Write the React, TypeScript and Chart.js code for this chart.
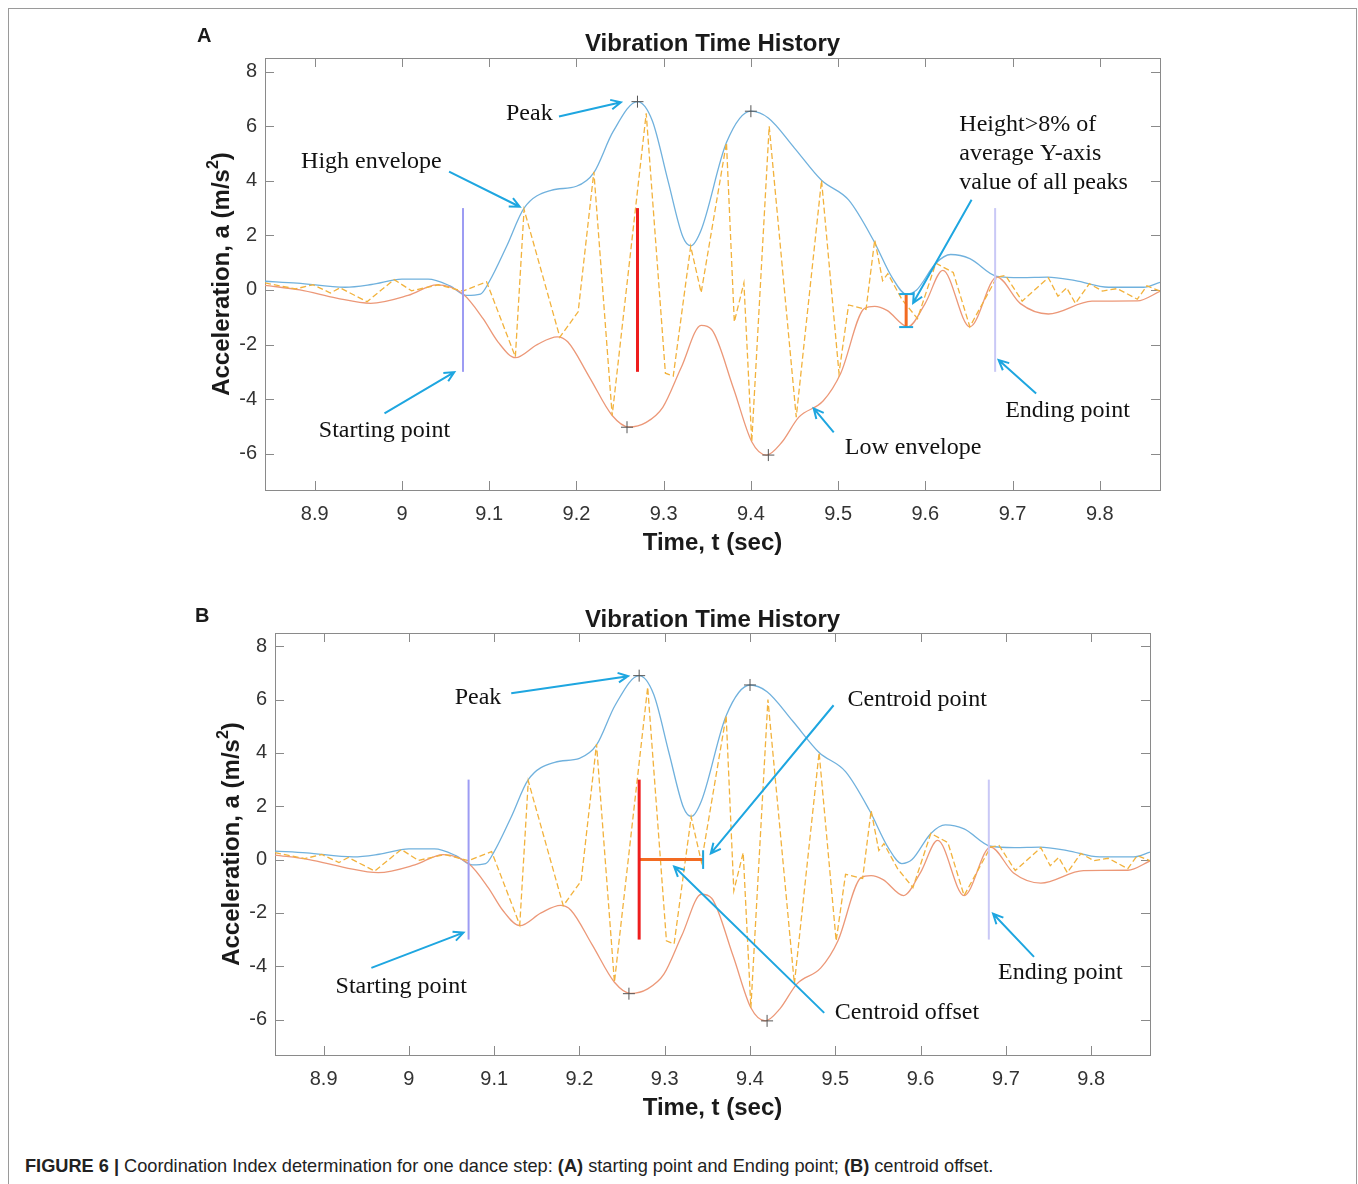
import React, { useEffect, useRef } from "react";
import { Chart, registerables } from "chart.js";
Chart.register(...registerables);

// ---------- data ----------
const highT = [8.843, 8.88, 8.935, 8.965, 9.0, 9.03, 9.055, 9.074, 9.09, 9.1, 9.12, 9.14, 9.171, 9.2, 9.22, 9.242, 9.27, 9.287, 9.305, 9.322, 9.331, 9.343, 9.372, 9.4, 9.42, 9.45, 9.481, 9.512, 9.54, 9.562, 9.578, 9.59, 9.612, 9.629, 9.651, 9.682, 9.71, 9.74, 9.772, 9.81, 9.85, 9.869];
const highA = [0.32, 0.25, 0.1, 0.2, 0.4, 0.4, 0.15, -0.2, -0.15, 0.3, 1.6, 3.0, 3.65, 3.8, 4.3, 5.8, 6.9, 6.2, 4.0, 1.95, 1.62, 2.2, 5.4, 6.55, 6.3, 5.2, 4.02, 3.3, 1.85, 0.45, -0.15, 0.0, 0.98, 1.3, 1.15, 0.5, 0.45, 0.47, 0.34, 0.1, 0.1, 0.28];

const lowT = [8.843, 8.883, 8.925, 8.964, 9.007, 9.04, 9.07, 9.093, 9.11, 9.13, 9.155, 9.178, 9.19, 9.215, 9.241, 9.26, 9.28, 9.299, 9.32, 9.343, 9.355, 9.38, 9.401, 9.418, 9.435, 9.455, 9.483, 9.503, 9.53, 9.542, 9.556, 9.58, 9.6, 9.62, 9.651, 9.682, 9.709, 9.741, 9.791, 9.843, 9.869];
const lowA = [0.17, 0.0, -0.3, -0.49, -0.2, 0.19, -0.15, -1.05, -1.9, -2.48, -2.0, -1.72, -1.9, -3.2, -4.6, -5.02, -4.85, -4.3, -2.85, -1.3, -1.45, -3.6, -5.56, -6.05, -5.6, -4.66, -4.06, -3.05, -0.68, -0.6, -0.75, -1.35, -0.48, 0.72, -1.35, 0.47, -0.5, -0.88, -0.41, -0.4, -0.05];

const sigT = [8.843, 8.878, 8.898, 8.918, 8.929, 8.96, 8.991, 9.011, 9.042, 9.07, 9.097, 9.13, 9.14, 9.181, 9.202, 9.22, 9.241, 9.28, 9.302, 9.311, 9.331, 9.343, 9.372, 9.381, 9.392, 9.401, 9.421, 9.452, 9.481, 9.501, 9.512, 9.532, 9.542, 9.551, 9.557, 9.573, 9.591, 9.612, 9.632, 9.651, 9.682, 9.692, 9.711, 9.741, 9.752, 9.762, 9.772, 9.788, 9.803, 9.82, 9.843, 9.854, 9.869];
const sigA = [0.26, 0.04, 0.19, -0.11, 0.08, -0.43, 0.38, -0.03, 0.19, -0.04, 0.3, -2.45, 2.95, -1.73, -0.8, 4.33, -4.6, 6.47, -3.05, -3.16, 1.6, -0.1, 5.4, -1.17, 0.26, -5.56, 6.0, -4.66, 4.02, -3.05, -0.55, -0.71, 1.84, 0.34, 0.6, -0.34, -1.05, 0.98, 0.64, -1.35, 0.47, 0.53, -0.41, 0.45, -0.23, 0.08, -0.49, 0.23, -0.04, 0.05, -0.34, 0.15, -0.04];

const peakT = [9.27, 9.4];
const peakA = [6.9, 6.55];
const troughT = [9.258, 9.42];
const troughA = [-5.03, -6.05];

const startT = 9.07;
const endT = 9.68;
const centreT = 9.27;
const centroidT = 9.345;
const markSpan = [-3, 3];
const thresholdT = 9.578;
const thresholdA = [-1.36, -0.15];

const xTickVals = [8.9, 9.0, 9.1, 9.2, 9.3, 9.4, 9.5, 9.6, 9.7, 9.8];
const yTickVals = [-6, -4, -2, 0, 2, 4, 6, 8];
const xRange = [8.843, 9.869];
const yRange = [-7.33, 8.5];

// ---------- annotations ----------
type Ann = { lines: string[]; x: number; y: number; align?: CanvasTextAlign; arrow?: number[] };

const annA: Ann[] = [
  { lines: ["Peak"], x: 9.146, y: 6.47, arrow: [9.18, 6.36, 9.251, 6.875] },
  { lines: ["High envelope"], x: 8.965, y: 4.71, arrow: [9.054, 4.34, 9.135, 3.05] },
  { lines: ["Starting point"], x: 8.98, y: -5.15, arrow: [8.98, -4.52, 9.06, -3.01] },
  { lines: ["Height>8% of", "average Y-axis", "value of all peaks"], x: 9.639, y: 6.07, align: "left", arrow: [9.653, 3.31, 9.586, -0.48] },
  { lines: ["Ending point"], x: 9.763, y: -4.41, arrow: [9.727, -3.79, 9.684, -2.57] },
  { lines: ["Low envelope"], x: 9.586, y: -5.77, arrow: [9.495, -5.22, 9.472, -4.34] },
];

const annB: Ann[] = [
  { lines: ["Peak"], x: 9.081, y: 6.09, arrow: [9.12, 6.24, 9.257, 6.88] },
  { lines: ["Starting point"], x: 8.991, y: -4.77, arrow: [8.956, -4.06, 9.064, -2.74] },
  { lines: ["Centroid point"], x: 9.596, y: 5.98, arrow: [9.498, 5.79, 9.354, 0.23] },
  { lines: ["Centroid offset"], x: 9.584, y: -5.75, arrow: [9.487, -5.75, 9.311, -0.26] },
  { lines: ["Ending point"], x: 9.764, y: -4.25, arrow: [9.733, -3.65, 9.685, -2.03] },
];

const SANS = '"Liberation Sans", Arial, Helvetica, sans-serif';
const SERIF = '"Liberation Serif", "Times New Roman", serif';
const CYAN = "#1ea6e0";

const pts = (t: number[], a: number[]) => t.map((v, i) => ({ x: v, y: a[i] }));

type PanelProps = {
  label: string;
  labelX: number;
  labelY: number;
  titleOff: number;
  left: number;
  top: number;
  yAxisW: number;
  padRight: number;
  padBottom: number;
  anns: Ann[];
  mode: "A" | "B";
};

function Panel(p: PanelProps) {
  const ref = useRef<HTMLCanvasElement>(null);
  useEffect(() => {
    const canvas = ref.current!;
    const lineDs = (data: any[], color: string, width: number, extra: any = {}) => ({
      data,
      borderColor: color,
      backgroundColor: color,
      borderWidth: width,
      pointRadius: 0,
      fill: false,
      tension: 0,
      ...extra,
    });
    const datasets: any[] = [];
    datasets.push(
      lineDs([...pts(peakT, peakA), ...pts(troughT, troughA)], "#555", 1, {
        showLine: false,
        pointRadius: 6,
        pointStyle: "cross",
        pointBorderColor: "#555",
        pointBorderWidth: 1,
      })
    );
    datasets.push(lineDs(pts([centreT, centreT], markSpan), "#ee1d1d", 3));
    if (p.mode === "A") {
      datasets.push(lineDs(pts([thresholdT - 0.008, thresholdT + 0.008], [thresholdA[1], thresholdA[1]]), CYAN, 2));
      datasets.push(lineDs(pts([thresholdT - 0.008, thresholdT + 0.008], [thresholdA[0], thresholdA[0]]), CYAN, 2));
      datasets.push(lineDs(pts([thresholdT, thresholdT], thresholdA), "#f26b22", 3));
    } else {
      datasets.push(lineDs(pts([centroidT, centroidT], [-0.35, 0.35]), CYAN, 2));
      datasets.push(lineDs(pts([centreT, centroidT], [0, 0]), "#f26b22", 3));
    }
    datasets.push(lineDs(pts([startT, startT], markSpan), "#9d9cf3", 2));
    datasets.push(lineDs(pts([endT, endT], markSpan), "#c9c8f6", 2));
    datasets.push(lineDs(pts(sigT, sigA), "#f2b23c", 1.3, { borderDash: [6, 3] }));
    datasets.push(lineDs(pts(lowT, lowA), "#ec9878", 1.3, { cubicInterpolationMode: "monotone" }));
    datasets.push(lineDs(pts(highT, highA), "#70b1dd", 1.3, { cubicInterpolationMode: "monotone" }));

    const deco = {
      id: "deco" + p.mode,
      beforeDatasetsDraw(chart: any) {
        const { ctx, chartArea } = chart;
        const { left, right, top, bottom } = chartArea;
        const xs = chart.scales.x;
        const ys = chart.scales.y;
        ctx.save();
        ctx.strokeStyle = "#8a8a8a";
        ctx.lineWidth = 1;
        ctx.strokeRect(Math.round(left) + 0.5, Math.round(top) + 0.5, Math.round(right - left), Math.round(bottom - top));
        ctx.beginPath();
        for (const v of xTickVals) {
          const px = Math.round(xs.getPixelForValue(v)) + 0.5;
          ctx.moveTo(px, bottom);
          ctx.lineTo(px, bottom - 9);
          ctx.moveTo(px, top);
          ctx.lineTo(px, top + 9);
        }
        for (const v of yTickVals) {
          const py = Math.round(ys.getPixelForValue(v)) + 0.5;
          ctx.moveTo(left, py);
          ctx.lineTo(left + 9, py);
          ctx.moveTo(right, py);
          ctx.lineTo(right - 9, py);
        }
        ctx.stroke();
        ctx.restore();
      },
      afterDraw(chart: any) {
        const { ctx, chartArea } = chart;
        const { left, right, top, bottom } = chartArea;
        const xs = chart.scales.x;
        const ys = chart.scales.y;
        const cx = (left + right) / 2;
        const cy = (top + bottom) / 2;
        ctx.save();
        ctx.fillStyle = "#1a1a1a";
        ctx.textAlign = "center";
        ctx.textBaseline = "middle";
        ctx.font = `bold 24px ${SANS}`;
        ctx.fillText("Vibration Time History", cx, top - p.titleOff);
        ctx.fillText("Time, t (sec)", cx, bottom + 53);
        // panel label
        ctx.font = `bold 20px ${SANS}`;
        ctx.textAlign = "left";
        ctx.fillText(p.label, p.labelX, p.labelY);
        // y title with superscript
        ctx.save();
        ctx.translate(left - 43, cy);
        ctx.rotate(-Math.PI / 2);
        const p1 = "Acceleration, a (m/s";
        const p2 = "2";
        const p3 = ")";
        ctx.font = `bold 24px ${SANS}`;
        const w1 = ctx.measureText(p1).width;
        const w3 = ctx.measureText(p3).width;
        ctx.font = `bold 16px ${SANS}`;
        const w2 = ctx.measureText(p2).width;
        let sx = -(w1 + w2 + w3) / 2;
        ctx.textAlign = "left";
        ctx.font = `bold 24px ${SANS}`;
        ctx.fillText(p1, sx, 0);
        sx += w1;
        ctx.font = `bold 16px ${SANS}`;
        ctx.fillText(p2, sx, -8);
        sx += w2;
        ctx.font = `bold 24px ${SANS}`;
        ctx.fillText(p3, sx, 0);
        ctx.restore();

        // annotations
        for (const a of p.anns) {
          if (a.arrow) {
            const x1 = xs.getPixelForValue(a.arrow[0]);
            const y1 = ys.getPixelForValue(a.arrow[1]);
            const x2 = xs.getPixelForValue(a.arrow[2]);
            const y2 = ys.getPixelForValue(a.arrow[3]);
            ctx.strokeStyle = CYAN;
            ctx.lineWidth = 2;
            ctx.beginPath();
            ctx.moveTo(x1, y1);
            ctx.lineTo(x2, y2);
            const ang = Math.atan2(y2 - y1, x2 - x1);
            const hl = 11;
            ctx.moveTo(x2 - hl * Math.cos(ang - 0.45), y2 - hl * Math.sin(ang - 0.45));
            ctx.lineTo(x2, y2);
            ctx.lineTo(x2 - hl * Math.cos(ang + 0.45), y2 - hl * Math.sin(ang + 0.45));
            ctx.stroke();
          }
          ctx.fillStyle = "#111";
          ctx.font = `24px ${SERIF}`;
          ctx.textAlign = a.align || "center";
          ctx.textBaseline = "middle";
          const tx = xs.getPixelForValue(a.x);
          const ty = ys.getPixelForValue(a.y);
          a.lines.forEach((ln, i) => ctx.fillText(ln, tx, ty + i * 29));
        }
        ctx.restore();
      },
    };

    const chart = new Chart(canvas, {
      type: "line",
      data: { datasets },
      options: {
        responsive: false,
        animation: false,
        events: [],
        layout: { padding: { left: 0, top: 43, right: p.padRight, bottom: p.padBottom } },
        plugins: { legend: { display: false }, tooltip: { enabled: false }, title: { display: false } },
        scales: {
          x: {
            type: "linear",
            min: xRange[0],
            max: xRange[1],
            afterBuildTicks: (s: any) => {
              s.ticks = xTickVals.map((v) => ({ value: v }));
            },
            afterFit: (s: any) => {
              s.height = 60;
            },
            grid: { display: false, drawTicks: false },
            border: { display: false },
            ticks: {
              padding: 12,
              autoSkip: false,
              maxRotation: 0,
              color: "#333",
              font: { size: 20, family: SANS },
              callback: (v: any) => String(Number(Number(v).toFixed(1))),
            },
          },
          y: {
            type: "linear",
            min: yRange[0],
            max: yRange[1],
            afterBuildTicks: (s: any) => {
              s.ticks = yTickVals.map((v) => ({ value: v }));
            },
            afterFit: (s: any) => {
              s.width = p.yAxisW;
            },
            grid: { display: false, drawTicks: false },
            border: { display: false },
            ticks: {
              padding: 8,
              color: "#333",
              font: { size: 20, family: SANS },
              callback: (v: any) => String(v),
            },
          },
        },
      } as any,
      plugins: [deco],
    });
    return () => chart.destroy();
  }, []);
  return (
    <canvas
      ref={ref}
      width={1040}
      height={560}
      style={{ position: "absolute", left: p.left, top: p.top, width: 1040, height: 560 }}
    />
  );
}

export default function App() {
  return (
    <div>
      <div
        style={{
          position: "absolute",
          left: 8,
          top: 8,
          width: 1347,
          height: 1175,
          borderTop: "1px solid #9a9a9a",
          borderLeft: "1px solid #9a9a9a",
          borderRight: "1px solid #9a9a9a",
          background: "#fff",
        }}
      />
      <Panel label="A" labelX={47} labelY={21} titleOff={14} left={150} top={15} yAxisW={115} padRight={30} padBottom={25} anns={annA} mode="A" />
      <Panel label="B" labelX={45} labelY={26} titleOff={13} left={150} top={590} yAxisW={125} padRight={40} padBottom={35} anns={annB} mode="B" />
      <div
        style={{
          position: "absolute",
          left: 25,
          top: 1156,
          whiteSpace: "nowrap",
          font: `18.2px ${SANS}`,
          color: "#222",
        }}
      >
        <b>FIGURE 6 |</b> Coordination Index determination for one dance step: <b>(A)</b> starting point and Ending
        point; <b>(B)</b> centroid offset.
      </div>
    </div>
  );
}
